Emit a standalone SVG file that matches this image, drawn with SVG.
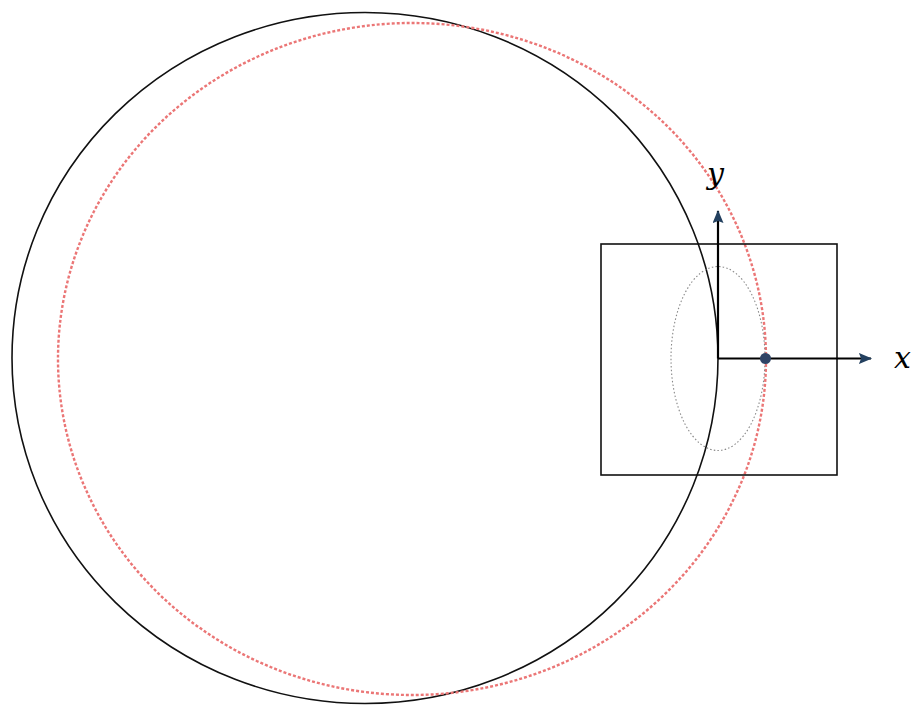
<svg xmlns="http://www.w3.org/2000/svg" width="922" height="710" viewBox="0 0 922 710">
<style>
.blk{fill:none;stroke:#111;stroke-width:1.6}
.red{fill:none;stroke:#eb7676;stroke-width:2.4;stroke-dasharray:3 2}
.gry{fill:none;stroke:#888;stroke-width:1.1;stroke-dasharray:1.5 2.2}
.ax{stroke:#000;stroke-width:2.2;fill:none}
.lbl{font-family:"DejaVu Serif","Liberation Serif",serif;font-style:italic;font-size:30px;fill:#000}
</style>
<defs>
<marker id="ah2" viewBox="0 0 12 10" refX="11" refY="5" markerWidth="14" markerHeight="11" markerUnits="userSpaceOnUse" orient="auto"><path d="M0,0 L12,5 L0,10 L2,5 Z" fill="#23405f"/></marker>
</defs>
<rect width="922" height="710" fill="#fff"/>
<g id="black-circle"><ellipse class="blk" cx="365" cy="358" rx="353" ry="345.5"/></g>
<g id="red-circle"><ellipse class="red" cx="412" cy="359" rx="354" ry="336"/></g>
<g id="box"><rect class="blk" x="601" y="244" width="236" height="231"/></g>
<g id="small-ellipse"><ellipse class="gry" cx="718" cy="358.5" rx="47" ry="92"/></g>
<g id="connectors">
<line class="ax" x1="718" y1="358.5" x2="718" y2="211" marker-end="url(#ah2)"/>
<line class="ax" x1="718" y1="358.5" x2="871" y2="358.5" marker-end="url(#ah2)"/>
</g>
<g id="point"><circle cx="765.5" cy="358.5" r="5.5" fill="#2f4466"/></g>
<g id="labels">
<text class="lbl" x="707" y="184">y</text>
<text class="lbl" x="894" y="368">x</text>
</g>
</svg>
